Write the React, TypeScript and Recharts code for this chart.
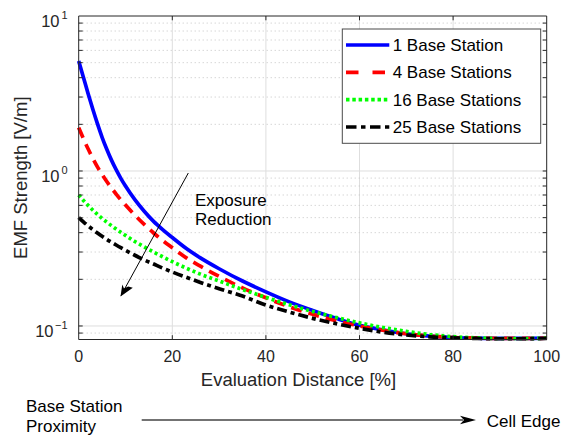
import React from 'react';
import { LineChart, Line, XAxis, YAxis, CartesianGrid, ReferenceLine } from 'recharts';

const xVals = [0, 1, 2, 3, 4, 5, 6, 7, 8, 9, 10, 12, 14, 16, 18, 20, 23, 26, 30, 35, 40, 45, 50, 55, 60, 65, 70, 75, 80, 85, 90, 95, 100];
const bs1 = [5.13, 4.03, 3.16, 2.51, 2.02, 1.65, 1.38, 1.175, 1.02, 0.897, 0.8, 0.653, 0.55, 0.473, 0.417, 0.372, 0.316, 0.275, 0.234, 0.195, 0.166, 0.143, 0.126, 0.112, 0.101, 0.0944, 0.0891, 0.0861, 0.0843, 0.0835, 0.0831, 0.0831, 0.0834];
const bs4 = [1.905, 1.62, 1.39, 1.21, 1.064, 0.948, 0.855, 0.776, 0.71, 0.652, 0.603, 0.519, 0.452, 0.398, 0.355, 0.32, 0.275, 0.243, 0.209, 0.176, 0.152, 0.133, 0.119, 0.108, 0.1, 0.0938, 0.0891, 0.0861, 0.0843, 0.0835, 0.0831, 0.0831, 0.0834];
const bs16 = [0.7, 0.646, 0.6, 0.56, 0.525, 0.494, 0.468, 0.444, 0.422, 0.402, 0.384, 0.351, 0.324, 0.3, 0.279, 0.26, 0.236, 0.216, 0.195, 0.172, 0.153, 0.137, 0.124, 0.1135, 0.1047, 0.0977, 0.0923, 0.0881, 0.0853, 0.0838, 0.083, 0.083, 0.0834];
const bs25 = [0.501, 0.47, 0.443, 0.419, 0.398, 0.379, 0.362, 0.347, 0.333, 0.32, 0.308, 0.286, 0.267, 0.251, 0.236, 0.223, 0.206, 0.191, 0.174, 0.156, 0.1365, 0.123, 0.112, 0.1035, 0.0966, 0.0912, 0.0875, 0.0851, 0.0838, 0.0831, 0.0827, 0.0827, 0.0831];

const seriesNames = ['1 Base Station', '4 Base Stations', '16 Base Stations', '25 Base Stations'];
const seriesKeys = ['bs1', 'bs4', 'bs16', 'bs25'];
const seriesColors = ['#0000ff', '#ff0000', '#00ff00', '#000000'];
const seriesDash = ['', '11 7', '3 3', '10 4 4 4'];
const legendDash = ['', '12.5 14', '3.5 2.8', '10.5 4.5 4.5 4.5'];

const xTicks = [0, 20, 40, 60, 80, 100];
const xGrid = [20, 40, 60, 80];
const yTicks = [0.1, 1, 10];
const yExp = ['−1', '0', '1'];
const yMajorGrid = [0.1, 1];
const yMinor = [0.09, 0.2, 0.3, 0.4, 0.5, 0.6, 0.7, 0.8, 0.9, 2, 3, 4, 5, 6, 7, 8, 9];
const yDomain: [number, number] = [0.0818, 10];

const data = xVals.map((x, i) => ({ x, bs1: bs1[i], bs4: bs4[i], bs16: bs16[i], bs25: bs25[i] }));

const AX = '#262626';
const FONT = 'Arial, "Liberation Sans", Helvetica, sans-serif';

const sc = (s: any, v: number) => (typeof s === 'function' ? s(v) : s?.map ? s.map(v) : 0);

const XTick = (props: any) => {
  const { x, y, payload } = props;
  return (
    <text x={x} y={y + 22.8} textAnchor="middle" fontSize={16} fill={AX} fontFamily={FONT}>
      {payload.value}
    </text>
  );
};

const YTick = (props: any) => {
  const { y, payload } = props;
  const idx = yTicks.indexOf(payload.value);
  const exp = yExp[idx] ?? '';
  const baseEnd = exp.length > 1 ? 53.5 : 59.5;
  return (
    <g>
      <text x={baseEnd} y={y + 10.7} textAnchor="end" fontSize={16.5} fill={AX} fontFamily={FONT}>
        10
      </text>
      <text x={67.5} y={y + 2.7} textAnchor="end" fontSize={11} fill={AX} fontFamily={FONT}>
        {exp}
      </text>
    </g>
  );
};

const tx = 0.855; // inward tick length in x units
const tyF = 1.066; // inward tick length as log factor

export default function App() {
  return (
    <div style={{ position: 'absolute', left: 0, top: 0, width: 561, height: 437, background: '#fff', fontFamily: FONT }}>
      <LineChart width={561} height={437} data={data} margin={{ top: 16, right: 14.3, bottom: 67.5, left: 0 }}>
        <CartesianGrid
          stroke="#dedede"
          strokeWidth={1}
          horizontalCoordinatesGenerator={({ yAxis }: any) => yMajorGrid.map((v) => sc(yAxis?.scale, v))}
          verticalCoordinatesGenerator={({ xAxis }: any) => xGrid.map((v) => sc(xAxis?.scale, v))}
        />
        <CartesianGrid
          stroke="#c4c4c4"
          strokeWidth={1}
          strokeDasharray="1 3"
          vertical={false}
          horizontalCoordinatesGenerator={({ yAxis }: any) => yMinor.map((v) => sc(yAxis?.scale, v))}
        />
        <XAxis
          dataKey="x"
          type="number"
          domain={[0, 100]}
          ticks={xTicks}
          interval={0}
          height={30}
          tickSize={0}
          tickMargin={0}
          tickLine={false}
          axisLine={{ stroke: AX, strokeWidth: 1 }}
          tick={<XTick />}
        />
        <YAxis
          type="number"
          scale="log"
          domain={yDomain}
          ticks={yTicks}
          interval={0}
          width={78.7}
          tickSize={0}
          tickMargin={0}
          tickLine={false}
          axisLine={{ stroke: AX, strokeWidth: 1 }}
          tick={<YTick />}
        />
        {seriesKeys.map((k, i) => (
          <Line
            key={k}
            dataKey={k}
            type="monotone"
            stroke={seriesColors[i]}
            strokeWidth={3.7}
            strokeDasharray={seriesDash[i] || undefined}
            dot={false}
            activeDot={false}
            isAnimationActive={false}
          />
        ))}
        <ReferenceLine y={10} stroke={AX} strokeWidth={1} />
        <ReferenceLine x={100} stroke={AX} strokeWidth={1} />
        {[...yMajorGrid, ...yMinor].map((v) => (
          <ReferenceLine key={'l' + v} segment={[{ x: 0, y: v }, { x: tx, y: v }]} stroke={AX} strokeWidth={1} />
        ))}
        {[...yMajorGrid, ...yMinor].map((v) => (
          <ReferenceLine key={'r' + v} segment={[{ x: 100 - tx, y: v }, { x: 100, y: v }]} stroke={AX} strokeWidth={1} />
        ))}
        {xGrid.map((v) => (
          <ReferenceLine key={'b' + v} segment={[{ x: v, y: yDomain[0] }, { x: v, y: yDomain[0] * tyF }]} stroke={AX} strokeWidth={1} />
        ))}
        {xGrid.map((v) => (
          <ReferenceLine key={'t' + v} segment={[{ x: v, y: yDomain[1] / tyF }, { x: v, y: yDomain[1] }]} stroke={AX} strokeWidth={1} />
        ))}
      </LineChart>
      <svg width={561} height={437} style={{ position: 'absolute', left: 0, top: 0, pointerEvents: 'none' }}>
        {/* legend */}
        <rect x={342.3} y={29} width={198.4} height={114.3} fill="#fff" stroke="#4a4a4a" strokeWidth={1} />
        {seriesNames.map((n, i) => {
          const base = [51, 78.3, 105.7, 133][i];
          return (
            <g key={n}>
              <line
                x1={346}
                x2={389.3}
                y1={base - 6}
                y2={base - 6}
                stroke={seriesColors[i]}
                strokeWidth={3.7}
                strokeDasharray={legendDash[i] || undefined}
              />
              <text x={392.7} y={base} fontSize={17} fill="#000" fontFamily={FONT}>
                {n}
              </text>
            </g>
          );
        })}
        {/* axis titles */}
        <text x={298.5} y={386} textAnchor="middle" fontSize={18.5} fill={AX} fontFamily={FONT}>
          Evaluation Distance [%]
        </text>
        <text
          x={26.7}
          y={177.7}
          textAnchor="middle"
          fontSize={18.5}
          fill={AX}
          fontFamily={FONT}
          transform="rotate(-90 26.7 177.7)"
        >
          EMF Strength [V/m]
        </text>
        {/* exposure reduction annotation */}
        <line x1={188.3} y1={173} x2={121} y2={295.5} stroke="#000" strokeWidth={1} />
        <path d="M 120.5 296.5 L 122.3 284.5 L 124 288.6 L 128.2 286.6 L 132.8 287.8 Z" fill="#000" />
        <text x={195} y={205.7} fontSize={17} fill="#000" fontFamily={FONT}>Exposure</text>
        <text x={195} y={225} fontSize={17} fill="#000" fontFamily={FONT}>Reduction</text>
        {/* bottom annotation */}
        <text x={26} y={411.7} fontSize={17} fill="#000" fontFamily={FONT}>Base Station</text>
        <text x={26} y={431.7} fontSize={17} fill="#000" fontFamily={FONT}>Proximity</text>
        <line x1={141.7} y1={420} x2={463} y2={420} stroke="#444" strokeWidth={1.3} />
        <path d="M 476 420 L 460 415.7 L 464 420 L 460 424.3 Z" fill="#000" />
        <text x={486.7} y={426.7} fontSize={17} fill="#000" fontFamily={FONT}>Cell Edge</text>
      </svg>
    </div>
  );
}
